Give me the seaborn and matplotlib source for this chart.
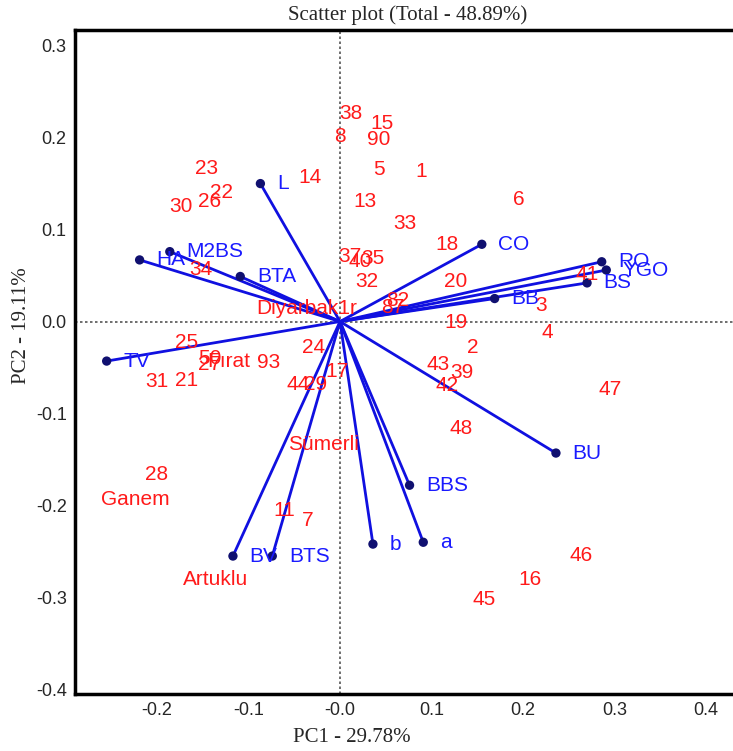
import matplotlib
matplotlib.use("Agg")
import matplotlib.pyplot as plt
import seaborn as sns
import pandas as pd

# loadings (blue vectors)
var_names = ["L", "HA", "M2BS", "BTA", "TV", "CO", "RO", "YGO", "BS", "BB",
             "BU", "BBS", "b", "a", "BV", "BTS"]
var_pc1 = [-0.087, -0.219, -0.186, -0.109, -0.255, 0.155, 0.286, 0.291, 0.270, 0.169,
           0.236, 0.076, 0.036, 0.091, -0.117, -0.074]
var_pc2 = [0.150, 0.067, 0.076, 0.049, -0.043, 0.084, 0.065, 0.056, 0.042, 0.025,
           -0.143, -0.178, -0.242, -0.240, -0.255, -0.255]

# scores (red labels)
obs_labels = ["38", "15", "8", "90", "5", "1", "13", "33", "18", "14",
              "23", "22", "26", "30", "34", "6", "20", "41", "3", "19",
              "4", "2", "39", "43", "42", "47", "48", "46", "16", "45",
              "37", "40", "35", "32", "Diyarbak1r", "82", "87", "24", "93", "17",
              "44", "29", "25", "50", "27", "Fırat", "31", "21", "28", "Ganem",
              "Artuklu", "11", "7", "Sümerli"]
obs_pc1 = [0.012, 0.046, 0.000, 0.042, 0.043, 0.089, 0.027, 0.071, 0.117, -0.033,
           -0.146, -0.129, -0.142, -0.174, -0.152, 0.195, 0.126, 0.270, 0.220, 0.127,
           0.227, 0.145, 0.133, 0.107, 0.117, 0.295, 0.132, 0.264, 0.208, 0.157,
           0.011, 0.022, 0.036, 0.029, -0.036, 0.063, 0.058, -0.029, -0.078, -0.003,
           -0.046, -0.027, -0.168, -0.142, -0.142, -0.122, -0.200, -0.168, -0.200, -0.224,
           -0.136, -0.061, -0.035, -0.018]
obs_pc2 = [0.226, 0.215, 0.201, 0.198, 0.165, 0.163, 0.131, 0.107, 0.084, 0.157,
           0.166, 0.140, 0.131, 0.125, 0.057, 0.133, 0.044, 0.051, 0.017, -0.001,
           -0.012, -0.028, -0.055, -0.047, -0.070, -0.074, -0.116, -0.254, -0.281, -0.302,
           0.071, 0.065, 0.068, 0.044, 0.014, 0.023, 0.015, -0.028, -0.045, -0.054,
           -0.069, -0.069, -0.023, -0.040, -0.047, -0.044, -0.065, -0.064, -0.166, -0.193,
           -0.281, -0.206, -0.216, -0.134]

sns.set_style("white")
plt.rcParams['font.family'] = ['Liberation Sans', 'DejaVu Sans']

fig = plt.figure(figsize=(7.33, 7.51), dpi=100)
ax = fig.add_axes([75 / 733, 57 / 751, 670 / 733, 664 / 751])

loadings = pd.DataFrame({"name": var_names, "PC1": var_pc1, "PC2": var_pc2})

# reference lines through the origin
ax.axhline(0, color="#555555", ls=(0, (1.5, 1.5)), lw=1.2, zorder=1)
ax.axvline(0, color="#555555", ls=(0, (1.5, 1.5)), lw=1.2, zorder=1)

# vectors
for _, r in loadings.iterrows():
    ax.plot([0, r["PC1"]], [0, r["PC2"]], color="#1010e0", lw=2, zorder=2)
sns.scatterplot(data=loadings, x="PC1", y="PC2", color="#101070", s=45,
                edgecolor="none", ax=ax, zorder=3)
for _, r in loadings.iterrows():
    ax.annotate(r["name"], (r["PC1"], r["PC2"]), xytext=(12, 0),
                textcoords="offset points", ha="left", va="center",
                color="#1a1aff", fontsize=15, zorder=4)

# observation labels
for lab, x, y in zip(obs_labels, obs_pc1, obs_pc2):
    ax.text(x, y, lab, color="#ff1a1a", fontsize=15, ha="center", va="center", zorder=4)

ax.set_xlim(-0.2896, 0.4426)
ax.set_ylim(-0.405, 0.317)
ax.set_xticks([-0.2, -0.1, 0.0, 0.1, 0.2, 0.3, 0.4])
ax.set_xticklabels(["-0.2", "-0.1", "-0.0", "0.1", "0.2", "0.3", "0.4"])
ax.set_yticks([0.3, 0.2, 0.1, 0.0, -0.1, -0.2, -0.3, -0.4])
ax.set_yticklabels(["0.3", "0.2", "0.1", "0.0", "-0.1", "-0.2", "-0.3", "-0.4"])
ax.tick_params(axis="both", length=0, labelsize=13, pad=6)
ax.set_xlabel("")
ax.set_ylabel("")
for s in ax.spines.values():
    s.set_linewidth(2.5)
    s.set_color("black")

serif = ['Liberation Serif', 'DejaVu Serif']
fig.text(408 / 733, 1 - 15 / 751, "Scatter plot (Total - 48.89%)", family=serif,
         fontsize=15, ha="center", va="center")
fig.text(352 / 733, 1 - 737 / 751, "PC1 - 29.78%", family=serif,
         fontsize=15, ha="center", va="center")
fig.text(22 / 733, 1 - 326 / 751, "PC2 - 19.11%", family=serif,
         fontsize=15, ha="center", va="center", rotation=90)

fig.savefig("out.png", dpi=100)
